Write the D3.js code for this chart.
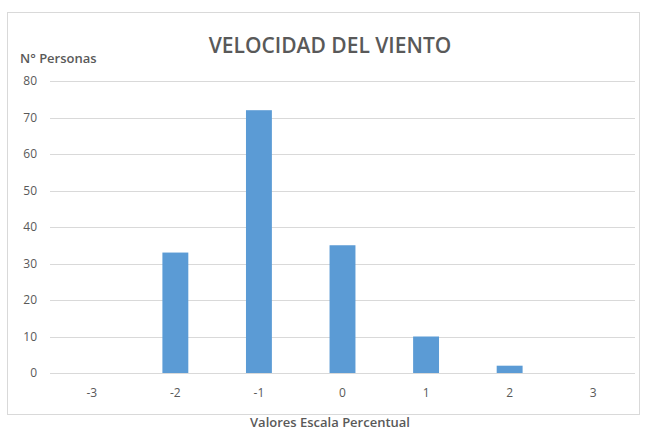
<!DOCTYPE html>
<html>
<head>
<meta charset="utf-8">
<script src="https://cdn.jsdelivr.net/npm/d3@7"></script>
<style>
  html, body { margin: 0; padding: 0; background: #fff; }
  svg { display: block; }
  text { font-family: "Open Sans", Lato, sans-serif; }
</style>
</head>
<body>
<svg id="chart" width="645" height="431"></svg>
<script>
// Escala perceptual de velocidad del viento: número de personas por valor
const categories = ["-3", "-2", "-1", "0", "1", "2", "3"];
const personas = [0, 33, 72, 35, 10, 2, 0];
const yTicks = [0, 10, 20, 30, 40, 50, 60, 70, 80];

const title = "VELOCIDAD DEL VIENTO";
const yTitle = "N° Personas";
const xTitle = "Valores Escala Percentual";

const svg = d3.select("#chart");
const W = 645, H = 431;
const margin = { left: 50, right: 10, top: 81, bottom: 58 };

// Marco del área del gráfico
svg.append("rect")
  .attr("x", 7.5).attr("y", 12.5)
  .attr("width", 632).attr("height", 402)
  .attr("fill", "#fff")
  .attr("stroke", "#d9d9d9").attr("stroke-width", 1);

const x = d3.scaleBand()
  .domain(categories)
  .range([margin.left, W - margin.right])
  .paddingInner(0.69).paddingOuter(0.345);

const y = d3.scaleLinear()
  .domain([0, 80])
  .range([H - margin.bottom, margin.top]);

// Líneas de cuadrícula horizontales
svg.append("g")
  .selectAll("line")
  .data(yTicks)
  .join("line")
  .attr("x1", margin.left).attr("x2", W - margin.right)
  .attr("y1", d => Math.round(y(d)) + 0.5)
  .attr("y2", d => Math.round(y(d)) + 0.5)
  .attr("stroke", "#d9d9d9").attr("stroke-width", 1);

// Eje Y (solo etiquetas)
const yAxis = svg.append("g")
  .attr("transform", `translate(${margin.left - 13},0)`)
  .call(d3.axisLeft(y).tickValues(yTicks).tickSize(0).tickPadding(0));
yAxis.select(".domain").remove();
yAxis.selectAll("text")
  .attr("fill", "#595959")
  .style("font-family", "'Open Sans', sans-serif")
  .style("font-size", "12px");

// Barras
svg.append("g")
  .selectAll("rect")
  .data(categories.map((c, i) => ({ c, v: personas[i] })))
  .join("rect")
  .attr("x", d => x(d.c))
  .attr("y", d => y(d.v))
  .attr("width", x.bandwidth())
  .attr("height", d => y(0) - y(d.v))
  .attr("fill", "#5b9bd5");

// Eje X (solo etiquetas)
const xAxis = svg.append("g")
  .attr("transform", `translate(0,${H - margin.bottom + 15})`)
  .call(d3.axisBottom(x).tickSize(0).tickPadding(0));
xAxis.select(".domain").remove();
xAxis.selectAll("text")
  .attr("fill", "#595959")
  .style("font-family", "'Open Sans', sans-serif")
  .style("font-size", "12px");

// Títulos
svg.append("text")
  .attr("x", 330).attr("y", 53)
  .attr("text-anchor", "middle")
  .attr("fill", "#595959")
  .style("font-size", "21px")
  .style("font-weight", "600")
  .text(title);

svg.append("text")
  .attr("x", 20).attr("y", 63)
  .attr("fill", "#595959")
  .style("font-size", "13px")
  .style("font-weight", "600")
  .text(yTitle);

svg.append("text")
  .attr("x", 330).attr("y", 427)
  .attr("text-anchor", "middle")
  .attr("fill", "#595959")
  .style("font-size", "13px")
  .style("font-weight", "600")
  .text(xTitle);
</script>
</body>
</html>
